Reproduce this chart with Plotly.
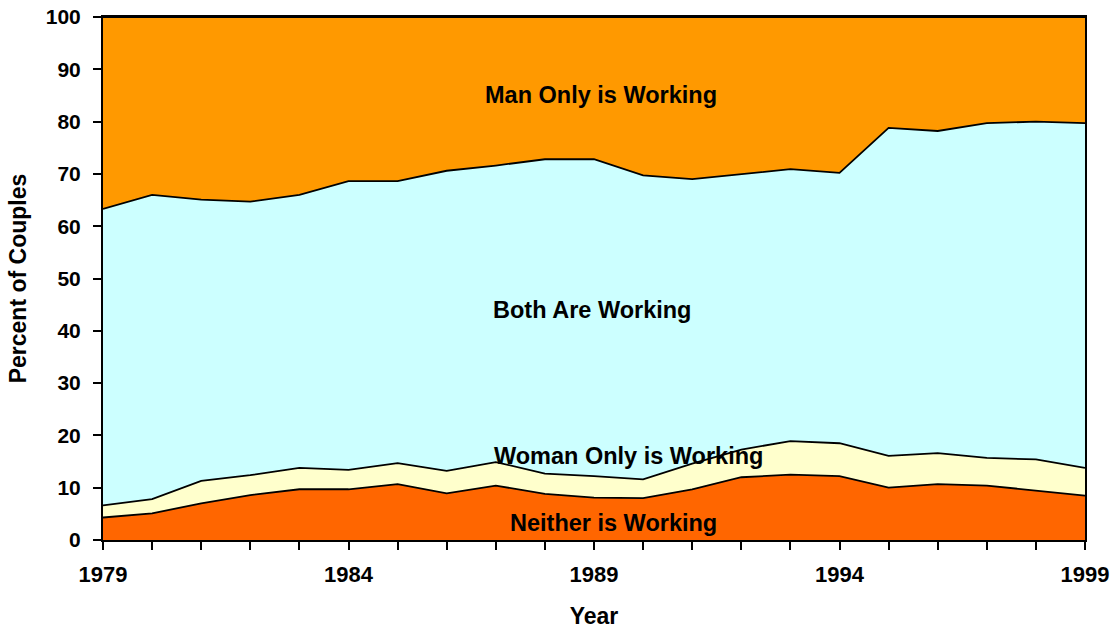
import plotly.graph_objects as go

years = list(range(1979, 2000))
neither = [4.3, 5.1, 7.0, 8.6, 9.7, 9.7, 10.7, 8.9, 10.4, 8.8, 8.1, 8.0, 9.7, 12.0, 12.5, 12.2, 10.0, 10.7, 10.4, 9.4, 8.5]
woman_only = [2.3, 2.7, 4.3, 3.8, 4.1, 3.7, 4.0, 4.3, 4.5, 3.9, 4.1, 3.6, 4.9, 5.3, 6.4, 6.3, 6.1, 5.9, 5.3, 6.0, 5.3]
both = [56.7, 58.2, 53.8, 52.3, 52.2, 55.2, 53.9, 57.4, 56.7, 60.1, 60.6, 58.1, 54.4, 52.6, 52.0, 51.7, 62.7, 61.6, 64.0, 64.6, 65.9]
man_only = [36.7, 34.0, 34.9, 35.3, 34.0, 31.4, 31.4, 29.4, 28.4, 27.2, 27.2, 30.3, 31.0, 30.1, 29.1, 29.8, 21.2, 21.8, 20.3, 20.0, 20.3]

series_names = ["Neither is Working", "Woman Only is Working", "Both Are Working", "Man Only is Working"]
series_values = [neither, woman_only, both, man_only]
series_colors = ["#FF6600", "#FFFFCC", "#CCFFFF", "#FF9900"]

x_tick_labels = [str(y) if (y - 1979) % 5 == 0 else "" for y in years]

label_pos = {
    "Man Only is Working": (1989.15, 85.0),
    "Both Are Working": (1988.95, 44.0),
    "Woman Only is Working": (1989.7, 16.1),
    "Neither is Working": (1989.4, 3.3),
}

FONT = "Liberation Sans, Arial, sans-serif"

fig = go.Figure()
for name, vals, col in zip(series_names, series_values, series_colors):
    fig.add_trace(go.Scatter(
        x=years, y=vals, name=name, mode="lines",
        stackgroup="one", fillcolor=col,
        line=dict(color="black", width=1.8),
        hoverinfo="x+y+name",
    ))

for name, (xx, yy) in label_pos.items():
    fig.add_annotation(x=xx, y=yy, text="<b>" + name + "</b>", showarrow=False,
                       font=dict(family=FONT, size=23.5, color="black"))

fig.update_layout(
    width=1116, height=629,
    margin=dict(l=103, r=31, t=17, b=89),
    paper_bgcolor="white", plot_bgcolor="white",
    showlegend=False,
    font=dict(family=FONT, size=22, color="black"),
    xaxis=dict(
        range=[1979, 1999], tickmode="array", tickvals=years, ticktext=x_tick_labels,
        ticks="outside", ticklen=8, tickwidth=2, tickcolor="black",
        showline=True, linecolor="black", linewidth=2, mirror=True,
        showgrid=False, zeroline=False, ticklabeloverflow="allow", automargin=False,
        ticklabelstandoff=6,
        tickfont=dict(family=FONT, size=22, color="black", weight="bold"),
        title=dict(text="<b>Year</b>", font=dict(family=FONT, size=23), standoff=21),
    ),
    yaxis=dict(
        range=[0, 100], tickmode="array", tickvals=list(range(0, 101, 10)),
        ticks="outside", ticklen=8, tickwidth=2, tickcolor="black",
        showline=True, linecolor="black", linewidth=2, mirror=True,
        showgrid=False, zeroline=False, ticklabeloverflow="allow", automargin=False,
        ticklabelstandoff=8,
        tickfont=dict(family=FONT, size=21, color="black", weight="bold"),
        title=dict(text="<b>Percent of Couples</b>", font=dict(family=FONT, size=23), standoff=13),
    ),
)

fig.write_html("out.html", config={"displayModeBar": False},
               post_script="document.body.style.margin='0';")
